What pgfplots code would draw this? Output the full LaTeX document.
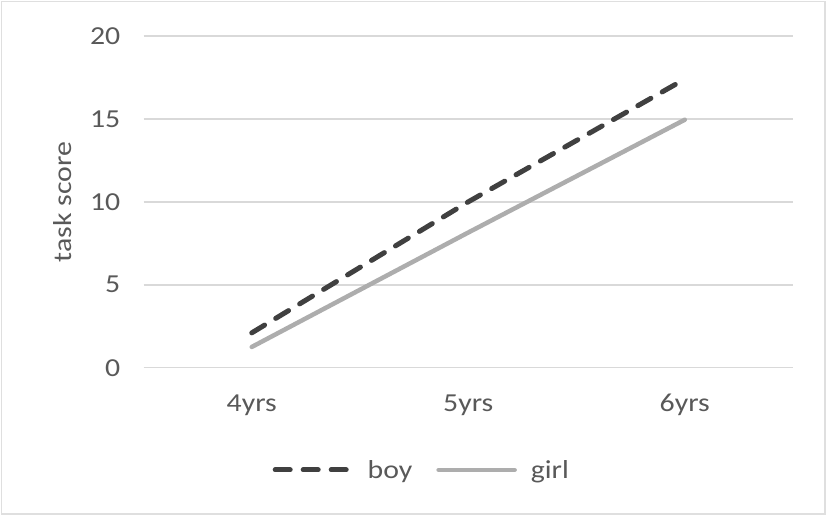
\documentclass[border=0pt]{standalone}
\usepackage{pgfplots}
\pgfplotsset{compat=1.18}
\usepackage{fontspec}
\setmainfont{Carlito}[FakeStretch=1.15]
\definecolor{boyc}{HTML}{404040}
\definecolor{girlc}{HTML}{ADADAD}
\definecolor{gridc}{HTML}{D9D9D9}
\definecolor{txtc}{HTML}{595959}
\begin{document}
\begin{tikzpicture}
\useasboundingbox (0,0) rectangle (827bp,517bp);
\draw[gray!25, line width=1.5bp] (1.5bp,3bp) rectangle (825bp,515.5bp);
\begin{axis}[
  at={(143.5bp,149.3bp)}, anchor=south west,
  scale only axis, width=649.5bp, height=331.7bp,
  xmin=0.5, xmax=3.5, ymin=0, ymax=20,
  xtick={1,2,3}, xticklabels={4yrs,5yrs,6yrs},
  ytick={0,5,10,15,20},
  axis line style={draw=none},
  major tick length=0pt,
  ymajorgrids, grid style={gridc, line width=1.5bp},
  font=\fontsize{26}{30}\selectfont,
  tick label style={txtc, font=\fontsize{26}{30}\selectfont},
  /pgf/number format/assume math mode=true,
  yticklabel style={anchor=east, inner sep=0pt, xshift=-23bp},
  xticklabel style={anchor=base, inner sep=0pt, yshift=-44bp},
  ylabel={task score},
  every axis y label/.style={at={(axis description cs:-0.124,0.5)}, rotate=90, anchor=center, txtc, font=\fontsize{26}{30}\selectfont},
  legend columns=2,
  legend style={draw=none, fill=none, at={(axis description cs:0.427,-0.308)}, anchor=center,
    font=\fontsize{26}{30}\selectfont, text=txtc,
    /tikz/every odd column/.append style={column sep=14bp},
    /tikz/every even column/.append style={column sep=24bp},
    nodes={inner sep=0pt}},
  legend cell align=left,
  legend image code/.code={\draw[#1] (0bp,0bp) -- (76bp,0bp);},
]
\addplot[boyc, line width=5bp, line cap=round, dash pattern=on 15bp off 13bp] coordinates {(1,2.1) (2,10) (3,17.4)};
\addlegendentry{boy}
\addplot[girlc, line width=4.5bp, line cap=round] coordinates {(1,1.25) (2,8.15) (3,14.95)};
\addlegendentry{girl}
\end{axis}
\end{tikzpicture}
\end{document}
